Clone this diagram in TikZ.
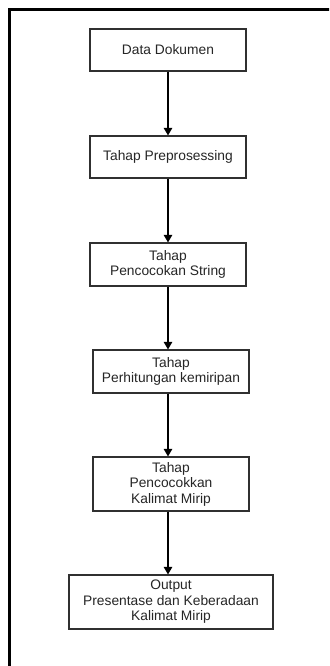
\documentclass[tikz,border=0pt]{standalone}
\usepackage{fontspec}
\setmainfont{Liberation Sans}
\usetikzlibrary{arrows.meta}
\definecolor{txt}{HTML}{262626}
\definecolor{edge}{HTML}{303030}
\tikzset{
  stepbox/.style={draw=edge, line width=1.2pt, fill=white, align=center, text=txt,
    inner sep=0pt, font=\fontsize{13.8pt}{15.5pt}\selectfont},
  flow/.style={draw=black, line width=1.4pt, -{Triangle[width=8.5pt,length=7.5pt]}},
  frame/.style={draw=black, line width=3pt}
}
\begin{document}
\begin{tikzpicture}[x=1pt,y=-1pt]
\useasboundingbox (0,0) rectangle (329,666);
\begin{scope}
\clip (0,0) rectangle (329,666);
\draw[frame] (9,700) -- (9,10) -- (360,10);
\end{scope}
\coordinate (ax) at (168,0);
\node[stepbox, minimum width=156pt, minimum height=42pt] (b1) at (168,50) {Data Dokumen};
\node[stepbox, minimum width=156pt, minimum height=42pt] (b2) at (168,157) {Tahap Preprosessing};
\node[stepbox, minimum width=156pt, minimum height=43pt] (b3) at (168,264.5) {Tahap\\Pencocokan String};
\node[stepbox, minimum width=156pt, minimum height=43pt] (b4) at (171,371.5) {Tahap\\Perhitungan kemiripan};
\node[stepbox, minimum width=156pt, minimum height=54pt] (b5) at (171,484) {Tahap\\Pencocokkan\\Kalimat Mirip};
\node[stepbox, minimum width=204pt, minimum height=54pt] (b6) at (171,602) {Output\\Presentase dan Keberadaan\\Kalimat Mirip};
\draw[flow] (b1.south -| ax) -- (b2.north -| ax);
\draw[flow] (b2.south -| ax) -- (b3.north -| ax);
\draw[flow] (b3.south -| ax) -- (b4.north -| ax);
\draw[flow] (b4.south -| ax) -- (b5.north -| ax);
\draw[flow] (b5.south -| ax) -- (b6.north -| ax);
\end{tikzpicture}
\end{document}
